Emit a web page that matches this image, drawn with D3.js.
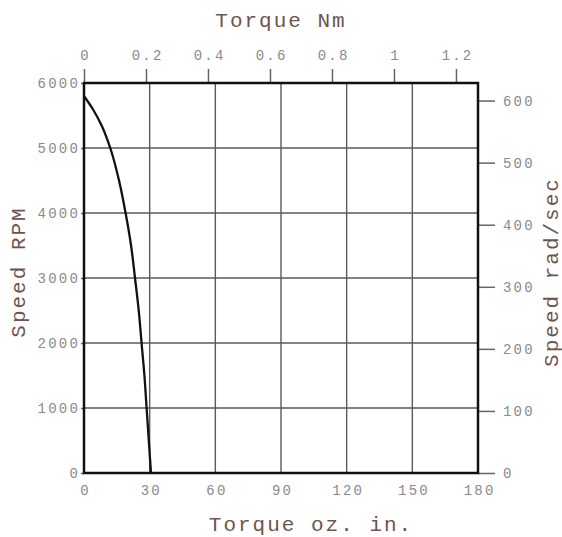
<!DOCTYPE html>
<html>
  <head>
    <title>Speed Torque</title>
    <script src="https://cdn.jsdelivr.net/npm/d3@7"></script>
    <style>
      html, body { margin: 0; padding: 0; background: #fff; overflow: hidden; }
      svg { display: block; }
    </style>
  </head>
  <body>
    <svg width="562" height="537" id="mainsvg" font-family="Liberation Mono, DejaVu Sans Mono, monospace"></svg>
    <script>
      // curve: torque in oz.in, speed in RPM
      const torqueOzIn = [0, 4, 8, 12, 16, 19, 21.5, 23.3, 25, 26.3, 27.6, 28.6, 29.6, 30.6];
      const speedRpm = [5800, 5600, 5350, 5000, 4500, 4000, 3500, 3000, 2500, 2000, 1500, 1000, 500, 0];

      const ozTicks = [0, 30, 60, 90, 120, 150, 180];
      const rpmTicks = [0, 1000, 2000, 3000, 4000, 5000, 6000];
      const nmTicks = [0, 0.2, 0.4, 0.6, 0.8, 1, 1.2];
      const radTicks = [0, 100, 200, 300, 400, 500, 600];

      const svg = d3.select('#mainsvg');
      const fontFamily = svg.attr('font-family');
      const margin = {top: 83, right: 84, bottom: 64, left: 84};
      const innerWidth = 562 - margin.left - margin.right;
      const innerHeight = 537 - margin.top - margin.bottom;

      const g = svg.append('g')
        .attr('transform', `translate(${margin.left}, ${margin.top})`);

      const xScale = d3.scaleLinear().domain([0, 180]).range([0, innerWidth]);
      const yScale = d3.scaleLinear().domain([0, 6000]).range([innerHeight, 0]);
      // 1 oz.in = 0.0070616 Nm, 1 RPM = 2*pi/60 rad/sec
      const nmScale = d3.scaleLinear().domain([0, 180 * 0.0070616]).range([0, innerWidth]);
      const radScale = d3.scaleLinear().domain([0, 6000 * 2 * Math.PI / 60]).range([innerHeight, 0]);

      const tickColor = '#8a8a8a';
      const titleColor = '#6e5550';
      const plain = d => String(d);
      const spacing = 2.2;

      // grid
      g.append('g').selectAll('line').data(ozTicks.slice(1, -1)).join('line')
        .attr('x1', d => xScale(d)).attr('x2', d => xScale(d))
        .attr('y1', 0).attr('y2', innerHeight)
        .attr('stroke', '#5a5a5a').attr('stroke-width', 1.4);
      g.append('g').selectAll('line').data(rpmTicks.slice(1, -1)).join('line')
        .attr('y1', d => yScale(d)).attr('y2', d => yScale(d))
        .attr('x1', 0).attr('x2', innerWidth)
        .attr('stroke', '#5a5a5a').attr('stroke-width', 1.4);

      function styleAxis(sel) {
        sel.attr('font-family', fontFamily).attr('font-size', 14);
        sel.select('.domain').remove();
        sel.selectAll('.tick line').attr('stroke', '#666').attr('stroke-width', 1.5);
        sel.selectAll('.tick text')
          .attr('fill', tickColor)
          .attr('letter-spacing', spacing + 'px');
      }

      g.append('g')
        .attr('transform', `translate(0, ${innerHeight})`)
        .call(d3.axisBottom(xScale).tickValues(ozTicks).tickFormat(plain).tickSize(0).tickPadding(12))
        .call(styleAxis)
        .selectAll('.tick text').attr('dx', spacing / 2);

      g.append('g')
        .call(d3.axisLeft(yScale).tickValues(rpmTicks).tickFormat(plain).tickSize(3).tickPadding(1))
        .call(styleAxis);

      g.append('g')
        .call(d3.axisTop(nmScale).tickValues(nmTicks).tickFormat(plain).tickSize(14).tickPadding(9))
        .call(styleAxis)
        .selectAll('.tick text').attr('dx', spacing / 2);

      g.append('g')
        .attr('transform', `translate(${innerWidth}, 0)`)
        .call(d3.axisRight(radScale).tickValues(radTicks).tickFormat(plain).tickSize(17).tickPadding(8))
        .call(styleAxis);

      // frame
      g.append('rect')
        .attr('width', innerWidth).attr('height', innerHeight)
        .attr('fill', 'none').attr('stroke', '#111').attr('stroke-width', 2.5);

      // speed curve
      const line = d3.line()
        .x((d, i) => xScale(torqueOzIn[i]))
        .y(d => yScale(d))
        .curve(d3.curveMonotoneY);
      g.append('path')
        .datum(speedRpm)
        .attr('d', line)
        .attr('fill', 'none')
        .attr('stroke', '#111')
        .attr('stroke-width', 2.3);

      // axis titles
      const titleAttrs = sel => sel
        .attr('fill', titleColor)
        .attr('font-size', 21)
        .attr('letter-spacing', '2px')
        .attr('text-anchor', 'middle');

      svg.append('text').text('Torque Nm')
        .attr('x', 281).attr('y', 27).call(titleAttrs);
      svg.append('text').text('Torque oz. in.')
        .attr('x', 311).attr('y', 531).call(titleAttrs);
      svg.append('text').text('Speed RPM')
        .attr('transform', 'rotate(-90)')
        .attr('x', -272).attr('y', 25).call(titleAttrs);
      svg.append('text').text('Speed rad/sec')
        .attr('transform', 'rotate(-90)')
        .attr('x', -272).attr('y', 558).call(titleAttrs);
    </script>
  </body>
</html>
